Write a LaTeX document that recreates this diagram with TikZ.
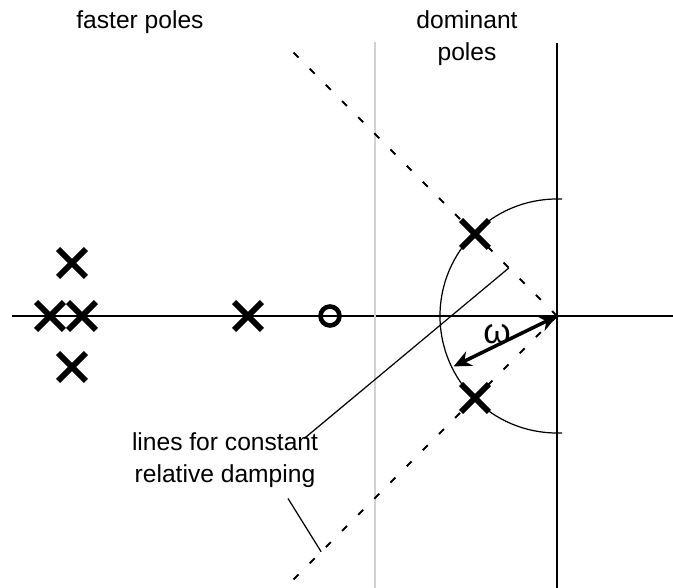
\documentclass[tikz,border=0pt]{standalone}
\usepackage{fontspec}
\setmainfont{Liberation Sans}
\usepackage{tikz}
\usetikzlibrary{arrows.meta, shapes.misc, positioning}

\begin{document}
\begin{tikzpicture}[
    pole/.style={cross out, draw, line width=3.3pt, minimum size=0.44cm, inner sep=0pt},
    zero/.style={circle, draw, line width=2.6pt, minimum size=0.38cm, inner sep=0pt},
    axis/.style={line width=0.9pt},
    damping/.style={line width=1.1pt, dash pattern=on 4pt off 9pt},
    leader/.style={line width=0.7pt},
    txt/.style={font=\fontsize{14}{18}\selectfont, align=center},
    arrow/.style={{Stealth[length=10pt,width=9pt]}-{Stealth[length=10pt,width=9pt]}, line width=2pt}
]
\useasboundingbox (-11.14,-5.44) rectangle (2.32,6.32);

% Axes
\coordinate (origin) at (0,0);
\coordinate (reL) at (-10.9,0);
\coordinate (reR) at (2.32,0);
\coordinate (imT) at (0,5.46);
\coordinate (imB) at (0,-5.44);
\draw[axis] (reL) -- (reR);
\draw[axis] (imT) -- (imB);

% Border between fast and dominant region
\draw[line width=1.3pt, black!18] (-3.64,5.48) -- (-3.64,-5.44);

% Lines for constant damping
\draw[damping] (origin) -- (135:7.6);
\draw[damping] (origin) -- (225:7.6);

% Circle for constant omega
\draw[line width=0.7pt] (0.1,2.34) -- (0,2.34) arc[start angle=90, end angle=270, radius=2.34] -- (0.1,-2.34);

% Faster poles and zero
\node[pole] (fast1) at (-9.7,1.06) {};
\node[pole] (fast2) at (-9.7,-1.02) {};
\node[pole] (fast3) at (-10.14,0) {};
\node[pole] (fast4) at (-9.5,0) {};
\node[pole] (fast5) at (-6.18,0) {};
\node[zero] (zero1) at (-4.54,0) {};

% Dominant poles
\node[pole] (dom1) at (135:2.32) {};
\node[pole] (dom2) at (225:2.32) {};

% Omega
\coordinate (arcpt) at (206:2.3);
\draw[arrow] (arcpt) -- (origin);
\node[font=\fontsize{20}{22}\selectfont] (omega) at (-1.2,-0.36) {ω};

% Labels
\node[txt] (faster) at (-8.34,5.88) {faster poles};
\node[txt] (dominant) at (-1.8,5.56) {dominant\\poles};
\node[txt] (damp) at (-6.64,-2.88) {lines for constant\\relative damping};

% Leaders
\coordinate (dampup) at (135:1.36);
\coordinate (damplow) at (225:6.67);
\draw[leader] ([shift={(-0.4,-0.24)}]damp.north east) -- (dampup);
\draw[leader] ([shift={(1.26,-0.1)}]damp.south) -- (damplow);
\end{tikzpicture}
\end{document}
